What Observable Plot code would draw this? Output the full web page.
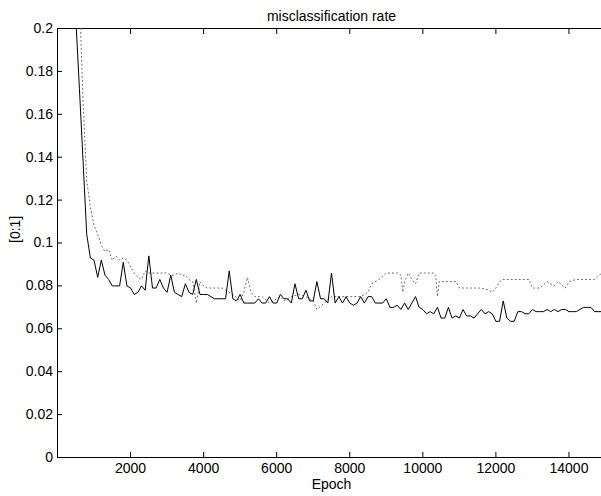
<!DOCTYPE html>
<html><head><meta charset="utf-8">
<script src="https://cdn.jsdelivr.net/npm/d3@7"></script>
<script src="https://cdn.jsdelivr.net/npm/@observablehq/plot@0.6"></script>
<style>html,body{margin:0;padding:0;background:#fff;overflow:hidden}</style>
</head><body><div id="chart"></div>
<script>
const title = "misclassification rate";
const xLabel = "Epoch";
const yLabel = "[0:1]";
const xTicks = [2000, 4000, 6000, 8000, 10000, 12000, 14000];
const yTicks = [0, 0.02, 0.04, 0.06, 0.08, 0.1, 0.12, 0.14, 0.16, 0.18, 0.2];

// solid series: one value every 100 epochs, 500 .. 14900
const solidEpochs = d3.range(500, 15000, 100);
const solidRate = [
  0.205,0.172,0.138,0.104,0.093,0.092,0.084,0.092,0.085,0.083,
  0.080,0.080,0.080,0.091,0.080,0.079,0.076,0.077,0.080,0.078,
  0.094,0.079,0.079,0.083,0.079,0.077,0.085,0.077,0.076,0.075,
  0.081,0.077,0.076,0.083,0.076,0.076,0.076,0.075,0.074,0.074,
  0.074,0.074,0.087,0.074,0.073,0.076,0.072,0.072,0.072,0.072,
  0.074,0.072,0.072,0.075,0.072,0.072,0.076,0.074,0.074,0.072,
  0.081,0.074,0.074,0.078,0.073,0.073,0.082,0.074,0.074,0.072,
  0.086,0.072,0.075,0.072,0.075,0.072,0.071,0.072,0.075,0.072,
  0.075,0.075,0.072,0.072,0.072,0.074,0.070,0.070,0.071,0.069,
  0.072,0.069,0.072,0.075,0.070,0.069,0.067,0.068,0.067,0.070,
  0.065,0.065,0.070,0.065,0.066,0.065,0.069,0.066,0.066,0.065,
  0.067,0.069,0.067,0.068,0.067,0.0635,0.0635,0.073,0.065,0.0635,
  0.0635,0.068,0.068,0.067,0.067,0.069,0.068,0.068,0.068,0.069,
  0.068,0.069,0.068,0.069,0.069,0.068,0.068,0.068,0.069,0.070,
  0.070,0.070,0.068,0.068,0.068
];

// dotted series (read where its shape changes)
const dottedEpochs = [600,700,800,900,1000,1100,1200,1300,1400,1500,1600,1700,1800,1900,2000,2100,2200,2300,2400,2500,
  2600,2700,2800,2900,3000,3100,3200,3300,3400,3500,3600,3700,3800,3900,4000,4100,4300,4500,4700,4800,
  5000,5100,5200,5300,5400,5600,5800,6100,6200,6400,6600,6800,7000,7100,7300,7500,8300,8500,8600,8800,
  9000,9300,9400,9450,9500,9600,9700,9800,9900,10300,10350,10400,10450,10600,10800,10900,11000,11200,11600,11800,
  11900,12000,12100,12200,12900,13000,13200,13400,13600,13700,13900,14000,14200,14700,14900];
const dottedRate = [0.215,0.166,0.129,0.117,0.108,0.104,0.099,0.096,0.097,0.092,0.094,0.092,0.093,0.092,0.089,0.086,0.084,0.083,0.087,0.086,
  0.086,0.086,0.086,0.086,0.086,0.085,0.085,0.086,0.085,0.085,0.083,0.082,0.072,0.082,0.080,0.079,0.079,0.079,0.077,0.076,
  0.073,0.077,0.084,0.077,0.075,0.075,0.072,0.075,0.073,0.075,0.076,0.075,0.073,0.069,0.072,0.075,0.075,0.077,0.081,0.083,
  0.086,0.086,0.085,0.077,0.082,0.086,0.083,0.081,0.086,0.086,0.085,0.075,0.082,0.082,0.082,0.082,0.079,0.079,0.079,0.078,
  0.077,0.079,0.082,0.083,0.083,0.079,0.079,0.082,0.080,0.082,0.079,0.082,0.083,0.083,0.086];

const solid = solidEpochs.map((e, i) => ({epoch: e, rate: solidRate[i]}));
const dotted = dottedEpochs.map((e, i) => ({epoch: e, rate: dottedRate[i]}));

const chart = Plot.plot({
  width: 601, height: 496,
  marginLeft: 57, marginRight: -4, marginTop: 28, marginBottom: 39,
  style: {fontFamily: '"Liberation Sans", Arial, sans-serif', fontSize: "14px", color: "black", background: "white", overflow: "hidden"},
  x: {domain: [0, 15000]},
  y: {domain: [0, 0.2]},
  marks: [
    Plot.frame({stroke: "black"}),
    Plot.axisX(xTicks, {anchor: "bottom", tickSize: -5, tickPadding: 11, tickFormat: d => String(d), label: null}),
    Plot.axisX(xTicks, {anchor: "top", tickSize: -5, fill: "none", label: null}),
    Plot.axisY(yTicks, {anchor: "left", tickSize: -5, tickPadding: 9.5, tickFormat: d => String(d), label: null}),
    Plot.axisY(yTicks, {anchor: "right", tickSize: -5, fill: "none", label: null}),
    Plot.lineY(dotted, {x: "epoch", y: "rate", stroke: "#666", strokeWidth: 1, strokeDasharray: "1,3", clip: true}),
    Plot.lineY(solid, {x: "epoch", y: "rate", stroke: "black", strokeWidth: 1, clip: true}),
    Plot.text([title], {text: d => d, frameAnchor: "top", dy: -17}),
    Plot.text([xLabel], {text: d => d, frameAnchor: "bottom", dy: 31}),
    Plot.text([yLabel], {text: d => d, frameAnchor: "left", rotate: -90, dx: -42})
  ]
});
document.getElementById("chart").appendChild(chart);
</script>
</body></html>
